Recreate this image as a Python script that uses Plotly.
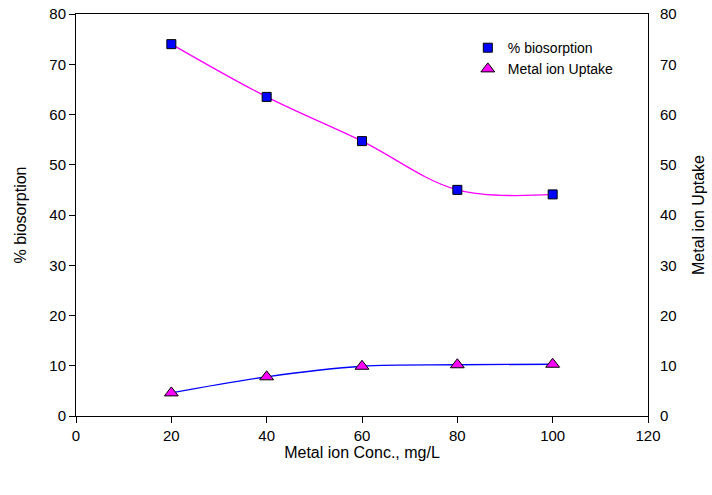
import plotly.graph_objects as go

conc = [20, 40, 60, 80, 100]
biosorption = [74.0, 63.5, 54.7, 45.0, 44.1]
uptake = [4.6, 7.8, 9.9, 10.2, 10.3]

x_ticks = [0, 20, 40, 60, 80, 100, 120]

font = dict(family="Liberation Sans, Arial, sans-serif", size=15, color="black")

fig = go.Figure()

# smooth connecting curves (no legend entry)
fig.add_trace(go.Scatter(x=conc, y=biosorption, mode="lines",
                         line=dict(color="#ff00ff", width=1.3, shape="spline", smoothing=1),
                         showlegend=False, hoverinfo="skip"))
fig.add_trace(go.Scatter(x=conc, y=uptake, mode="lines", yaxis="y2",
                         line=dict(color="#0000ff", width=1.3, shape="spline", smoothing=1),
                         showlegend=False, hoverinfo="skip"))

# data markers
fig.add_trace(go.Scatter(x=conc, y=biosorption, mode="markers", name="% biosorption",
                         marker=dict(symbol="square", size=9, color="#0000ff",
                                     line=dict(color="black", width=1))))
fig.add_trace(go.Scatter(x=conc, y=uptake, mode="markers", name="Metal ion Uptake", yaxis="y2",
                         marker=dict(symbol="triangle-up", size=12, color="#ff00ff",
                                     line=dict(color="black", width=1))))

axis_common = dict(showgrid=False, zeroline=False, showline=True, linecolor="black",
                   linewidth=1, ticks="outside", ticklen=6, tickcolor="black",
                   tickfont=font, automargin=False)

fig.update_layout(
    width=712, height=495,
    margin=dict(l=76, r=64, t=14, b=79),
    paper_bgcolor="white", plot_bgcolor="white",
    font=font,
    xaxis=dict(range=[0, 120], tickvals=x_ticks, mirror=True,
               title=dict(text="Metal ion Conc., mg/L", font=dict(size=16), standoff=2),
               **axis_common),
    yaxis=dict(range=[0, 80], dtick=10,
               title=dict(text="% biosorption", font=dict(size=16), standoff=18),
               **axis_common),
    yaxis2=dict(range=[0, 80], dtick=10, overlaying="y", side="right",
                title=dict(text="Metal ion Uptake", font=dict(size=16), standoff=17),
                **{**axis_common, "tickcolor": "rgba(0,0,0,0)", "ticklen": 8}),
    legend=dict(x=0.685, y=0.955, xanchor="left", yanchor="top",
                bgcolor="rgba(0,0,0,0)", font=dict(size=14), itemwidth=30,
                tracegroupgap=0),
)

fig.write_html("out.html")
